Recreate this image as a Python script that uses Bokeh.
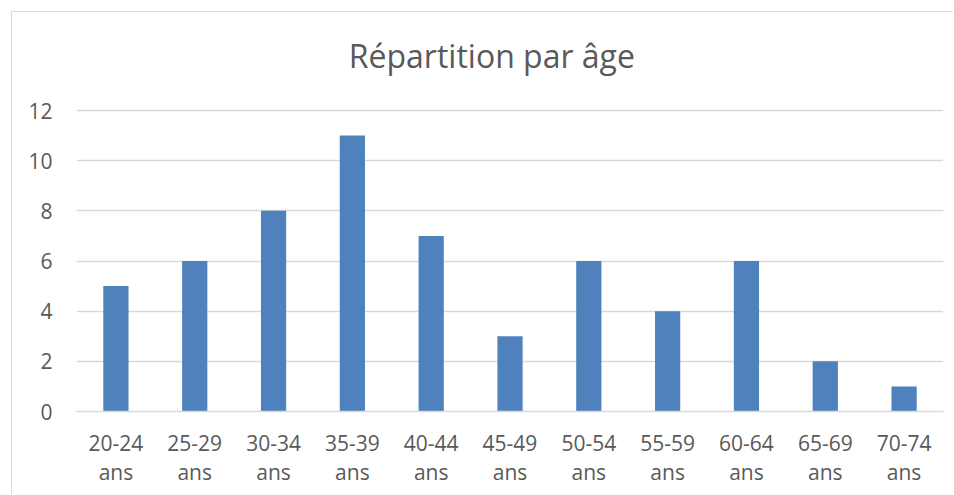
from bokeh.plotting import figure
from bokeh.models import Range1d, FactorRange, FixedTicker, Label
from bokeh.embed import file_html
from bokeh.resources import INLINE

categories = ["20-24 ans", "25-29 ans", "30-34 ans", "35-39 ans", "40-44 ans", "45-49 ans",
              "50-54 ans", "55-59 ans", "60-64 ans", "65-69 ans", "70-74 ans"]
counts = [5, 6, 8, 11, 7, 3, 6, 4, 6, 2, 1]
y_ticks = [0, 2, 4, 6, 8, 10, 12]
title_text = "Répartition par âge"

FONT = "Open Sans"
TXT = "#595959"
GRID = "#d9d9d9"

factors = [c.replace(" ", "\n") for c in categories]

# frame: 397 px tall, with 12 units spanning 301 px; upper part holds the title
Y_TOP = 397 / (301 / 12)

p = figure(x_range=FactorRange(factors=factors, range_padding=0),
           y_range=Range1d(0, Y_TOP),
           width=942, height=483, output_backend="svg", toolbar_location=None,
           min_border_left=64, min_border_right=11, min_border_top=2, min_border_bottom=84)
p.styles = {"border-left": "1px solid #d9d9d9", "border-top": "1px solid #d9d9d9",
            "margin-left": "11px", "margin-top": "11px"}

p.vbar(x=factors, top=counts, width=0.32, fill_color="#4F81BD", line_color=None)

title = Label(x=5.27, y=14.18, text=title_text, text_align="center", text_baseline="middle",
              text_font=FONT, text_font_size="32px", text_color=TXT)
p.add_layout(title)

p.outline_line_color = None
p.background_fill_color = "white"
p.border_fill_color = "white"

p.xgrid.grid_line_color = None
p.ygrid.grid_line_color = GRID
p.ygrid.grid_line_width = 1.5
p.yaxis.ticker = FixedTicker(ticks=y_ticks)

p.yaxis.axis_line_color = None
p.yaxis.major_tick_line_color = None
p.yaxis.minor_tick_line_color = None
p.yaxis.major_label_text_font = FONT
p.yaxis.major_label_text_font_size = "21px"
p.yaxis.major_label_text_color = TXT
p.yaxis.major_label_standoff = 18

p.xaxis.axis_line_color = GRID
p.xaxis.axis_line_width = 1.5
p.xaxis.major_tick_line_color = None
p.xaxis.minor_tick_line_color = None
p.xaxis.major_label_text_font = FONT
p.xaxis.major_label_text_font_size = "21px"
p.xaxis.major_label_text_color = TXT
p.xaxis.major_label_text_line_height = 1.05
p.xaxis.major_label_standoff = 11

open("out.html", "w").write(file_html(p, INLINE))
